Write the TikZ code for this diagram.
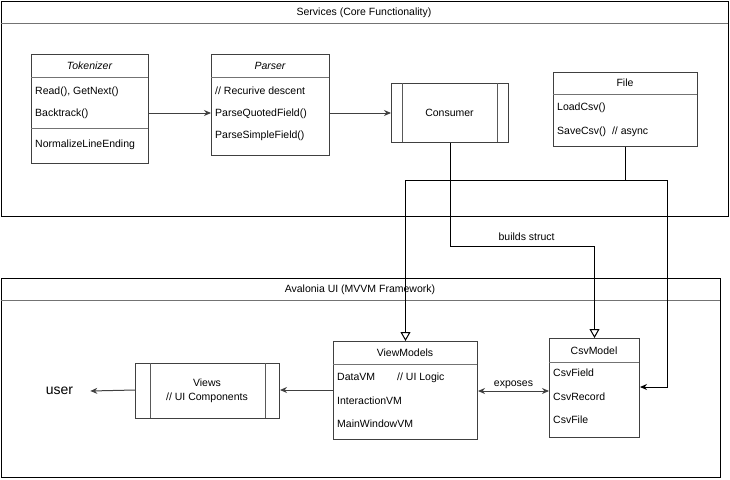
\documentclass[tikz,border=0pt]{standalone}
\usepackage{fontspec}
\setmainfont{Liberation Sans}
\usetikzlibrary{arrows.meta}
\tikzset{
  container/.style={draw=black, line width=1pt, inner sep=0pt, anchor=north west},
  classbox/.style={draw=black!75, line width=1pt, inner sep=0pt, anchor=north west, fill=white},
  sepline/.style={draw=black!55, line width=1pt},
  inner/.style={draw=black!65, line width=1pt},
  txt/.style={font=\fontsize{10.5}{14}\selectfont, inner sep=0pt, text height=7.6pt, text depth=2.2pt},
  ititle/.style={txt, font=\fontsize{10.5}{14}\selectfont\itshape, yshift=-1pt},
  item/.style={txt, anchor=west, yshift=-1.2pt},
  conn/.style={draw=black, line width=1pt, -{Stealth[length=7pt,width=6pt]}},
  inh/.style={draw=black, line width=1pt, -{Triangle[open,length=9pt,width=10pt]}},
}
\begin{document}
\begin{tikzpicture}[x=1pt,y=-1pt]
\useasboundingbox (0,0) rectangle (730,479);
% level coordinates
\coordinate (y113) at (0,113);
\coordinate (y180) at (0,180);
\coordinate (y246) at (0,246);
\coordinate (y387) at (0,387);
\coordinate (y390) at (0,390);
\coordinate (y391) at (0,391);
\coordinate (fr) at (667,180);

% Services container
\node[container, minimum width=727.5pt, minimum height=215.5pt] (svc) at (0.5,0.5) {};
\draw[sepline] (0.5,23.5) -- (728,23.5);
\node[txt, yshift=-1pt] (svct) at (364,12) {Services (Core Functionality)};

% Avalonia container
\node[container, minimum width=719.5pt, minimum height=199.5pt] (ava) at (0.5,277.5) {};
\draw[sepline] (0.5,300) -- (720,300);
\node[txt, yshift=-1pt] (avat) at (360,289) {Avalonia UI (MVVM Framework)};

% Tokenizer
\node[classbox, minimum width=117pt, minimum height=109pt] (tok) at (31,54) {};
\draw[sepline] (31,77) -- (148,77);
\draw[sepline] (31,128) -- (148,128);
\node[ititle] (tokt) at (89.5,65.5) {Tokenizer};
\node[item] (tok1) at (35,91) {Read(), GetNext()};
\node[item] (tok2) at (35,113) {Backtrack()};
\node[item] (tok3) at (35,144) {NormalizeLineEnding};

% Parser
\node[classbox, minimum width=118pt, minimum height=101pt] (par) at (211,54) {};
\draw[sepline] (211,77) -- (329,77);
\node[ititle] (part) at (270,65.5) {Parser};
\node[item] (par1) at (215,91) {// Recurive descent};
\node[item] (par2) at (215,113) {ParseQuotedField()};
\node[item] (par3) at (215,135) {ParseSimpleField()};

% Consumer
\node[classbox, minimum width=117pt, minimum height=59pt] (con) at (391,83) {};
\draw[inner] (402,83) -- (402,142);
\draw[inner] (497,83) -- (497,142);
\node[txt, yshift=-1pt] (cont) at (449.5,112.5) {Consumer};

% File
\node[classbox, minimum width=144pt, minimum height=74pt] (file) at (553,72) {};
\draw[sepline] (553,94) -- (697,94);
\node[txt, yshift=-1pt] (filet) at (625,83) {File};
\node[item] (file1) at (557,107) {LoadCsv()};
\node[item] (file2) at (557,131) {SaveCsv()\ \ // async};

% Views
\node[classbox, minimum width=144pt, minimum height=55pt] (views) at (135,363) {};
\draw[inner] (150,363) -- (150,418);
\draw[inner] (265,363) -- (265,418);
\node[font=\fontsize{10.5}{14.5}\selectfont, inner sep=0pt, align=center] (viewst) at (207,391) {Views\\// UI Components};

% ViewModels
\node[classbox, minimum width=144pt, minimum height=98pt] (vm) at (333,341) {};
\draw[sepline] (333,364) -- (477,364);
\node[txt, yshift=-1pt] (vmt) at (405,353) {ViewModels};
\node[item] (vm1) at (337,377) {\makebox[60pt][l]{DataVM}// UI Logic};
\node[item] (vm2) at (337,401) {InteractionVM};
\node[item] (vm3) at (337,424) {MainWindowVM};

% CsvModel
\node[classbox, minimum width=90pt, minimum height=99pt] (csv) at (549,338) {};
\draw[sepline] (549,362) -- (639,362);
\node[txt, yshift=-1pt] (csvt) at (594,351) {CsvModel};
\node[item] (csv1) at (553,373) {CsvField};
\node[item] (csv2) at (553,397) {CsvRecord};
\node[item] (csv3) at (553,420) {CsvFile};

% user
\node[font=\fontsize{14}{16}\selectfont, inner sep=0pt] (user) at (59.5,391) {user};

% connectors
\draw[conn, draw=black!75] (tok.east |- y113) -- (par.west |- y113);
\draw[conn, draw=black!75] (par.east |- y113) -- (con.west |- y113);
\draw[inh] (con.south) -- (con.south |- y246) -- node[txt, above=3pt, pos=0.53] (bs) {builds struct} (csv.north |- y246) -- (csv.north);
\draw[inh] (file.south) -- (file.south |- y180) -- (vm.north |- y180) -- (vm.north);
\draw[conn] (file.south |- y180) -- (fr) -- (fr |- y387) -- (csv.east |- y387);
\draw[line width=1pt, draw=black!75, {Stealth[length=7pt,width=6pt]}-{Stealth[length=7pt,width=6pt]}] (vm.east |- y391) -- node[txt, above=2pt] (exl) {exposes} (csv.west |- y391);
\draw[conn, draw=black!75] (vm.west |- y390) -- (views.east |- y390);
\draw[conn, draw=black!75] (views.west |- y390) -- ([xshift=17pt]user.east);
\end{tikzpicture}
\end{document}
